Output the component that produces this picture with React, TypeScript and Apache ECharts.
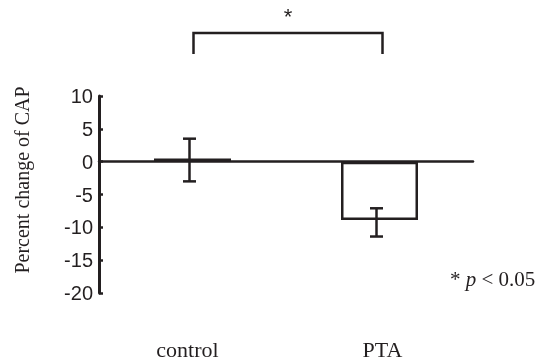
import React, { useEffect, useRef } from "react";
import * as echarts from "echarts";

const categories = ["control", "PTA"];
const meanValues = [0.5, -8.9];
const errLow = [-3.0, -11.4];
const errHigh = [3.5, -7.1];
const yTicks = { min: -20, max: 10, interval: 5 };

const SERIF = "'Liberation Serif', 'Times New Roman', 'DejaVu Serif', serif";
const SANS = "'Liberation Sans', Arial, sans-serif";

export default function App() {
  const ref = useRef<HTMLDivElement>(null);
  useEffect(() => {
    if (!ref.current) return;
    const chart = echarts.init(ref.current, null, { renderer: "svg" });
    const dark = "#231f20";
    const option: any = {
      animation: false,
      grid: { left: 99, right: 66, top: 96, bottom: 68 },
      xAxis: [
        {
          type: "category",
          data: categories,
          axisLine: { onZero: true, lineStyle: { color: dark, width: 2.5 } },
          axisTick: { show: false },
          axisLabel: { show: false },
        },
        {
          type: "category",
          data: categories,
          position: "bottom",
          axisLine: { show: false },
          axisTick: { show: false },
          axisLabel: {
            margin: 45,
            fontFamily: SERIF,
            fontSize: 22,
            color: dark,
            formatter: (v: string) =>
              v === categories[0] ? "{l|" + v + "}" : "{r|" + v + "}",
            rich: {
              l: { fontFamily: SERIF, fontSize: 22, color: dark, padding: [0, 10, 0, 0] },
              r: { fontFamily: SERIF, fontSize: 22, color: dark, padding: [0, 0, 0, 6] },
            },
          },
        },
      ],
      yAxis: {
        type: "value",
        min: yTicks.min,
        max: yTicks.max,
        interval: yTicks.interval,
        splitLine: { show: false },
        axisLine: { show: true, onZero: false, lineStyle: { color: dark, width: 3 } },
        axisTick: { show: true, inside: true, length: 4, lineStyle: { color: dark, width: 2.5 } },
        axisLabel: {
          fontFamily: SANS,
          fontSize: 20,
          color: dark,
          margin: 6,
        },
      },
      series: [
        {
          type: "bar",
          data: meanValues,
          barWidth: 77,
          itemStyle: { color: "#ffffff", borderColor: dark, borderWidth: 2.5 },
          z: 2,
        },
        {
          type: "custom",
          data: categories.map((_, i) => [i, errLow[i], errHigh[i]]),
          z: 5,
          renderItem: (params: any, api: any) => {
            const x = api.value(0);
            const lo = api.coord([x, api.value(1)]);
            const hi = api.coord([x, api.value(2)]);
            const cx = lo[0] - 3;
            const hw = 6.5;
            const style = { stroke: dark, lineWidth: 2.5 };
            return {
              type: "group",
              children: [
                { type: "line", shape: { x1: cx, y1: lo[1], x2: cx, y2: hi[1] }, style },
                { type: "line", shape: { x1: cx - hw, y1: lo[1], x2: cx + hw, y2: lo[1] }, style },
                { type: "line", shape: { x1: cx - hw, y1: hi[1], x2: cx + hw, y2: hi[1] }, style },
              ],
            };
          },
        },
      ],
    };
    chart.setOption(option);
    const p0 = chart.convertToPixel({ xAxisIndex: 0 }, categories[0]) as number;
    const p1 = chart.convertToPixel({ xAxisIndex: 0 }, categories[1]) as number;
    const bx0 = p0 + 1;
    const bx1 = p1 + 3;
    chart.setOption({
      graphic: [
        {
          type: "polyline",
          shape: { points: [[bx0, 54], [bx0, 33], [bx1, 33], [bx1, 54]] },
          style: { stroke: dark, lineWidth: 2.5, fill: null },
        },
        {
          type: "text",
          x: (bx0 + bx1) / 2,
          y: 16,
          style: {
            text: "*",
            fontFamily: SANS,
            fontSize: 22,
            fill: dark,
            align: "center",
            verticalAlign: "middle",
          },
        },
        {
          type: "text",
          x: 22,
          y: 180,
          rotation: Math.PI / 2,
          style: {
            text: "Percent change of CAP",
            fontFamily: SERIF,
            fontSize: 20,
            fill: dark,
            align: "center",
            verticalAlign: "middle",
          },
        },
        {
          type: "text",
          x: 450,
          y: 279,
          style: {
            text: "{a|* }{b|p}{a| < 0.05}",
            verticalAlign: "middle",
            rich: {
              a: { fontFamily: SERIF, fontSize: 21, fill: dark },
              b: { fontFamily: SERIF, fontSize: 21, fontStyle: "italic", fill: dark },
            },
          },
        },
      ],
    });
    return () => chart.dispose();
  }, []);
  return (
    <div
      ref={ref}
      style={{ width: 539, height: 361, position: "fixed", left: 0, top: 0 }}
    />
  );
}
